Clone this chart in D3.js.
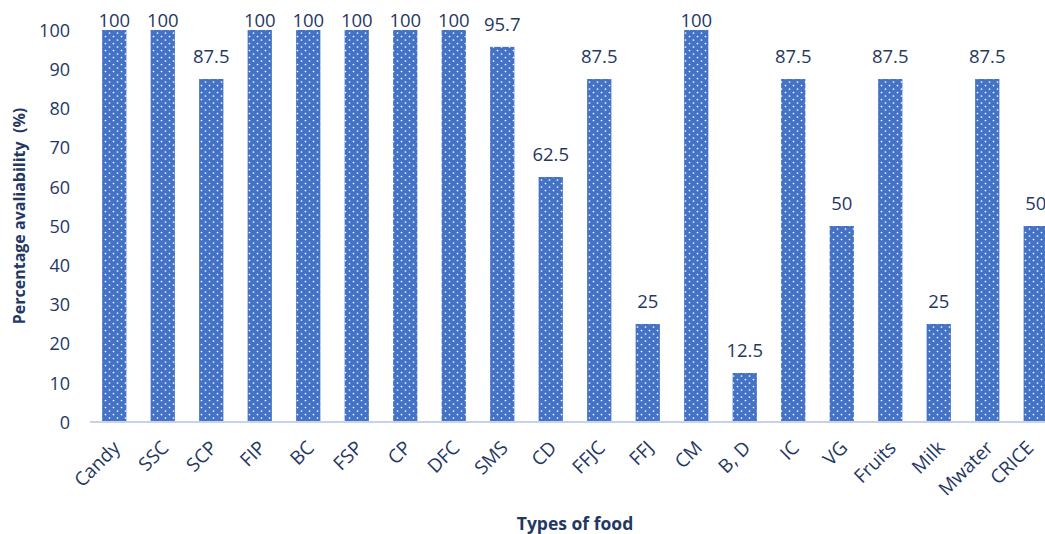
<!DOCTYPE html>
<html><head><meta charset="utf-8">
<script src="https://cdn.jsdelivr.net/npm/d3@7"></script>
<style>body{margin:0;background:#fff;} svg{display:block;}</style>
</head><body>
<script>
const categories = ["Candy","SSC","SCP","FIP","BC","FSP","CP","DFC","SMS","CD","FFJC","FFJ","CM","B, D","IC","VG","Fruits","Milk","Mwater","CRICE"];
const values = [100,100,87.5,100,100,100,100,100,95.7,62.5,87.5,25,100,12.5,87.5,50,87.5,25,87.5,50];
const yTicks = [0,10,20,30,40,50,60,70,80,90,100];
const yTitle = "Percentage avaliability  (%)";
const xTitle = "Types of food";

const W = 1045, H = 534;
const textColor = "#1f3864";
const barColor = "#4472c4";
const font = "'Open Sans', sans-serif";

const svg = d3.select("body").append("svg").attr("width", W).attr("height", H);

const defs = svg.append("defs");
const pat = defs.append("pattern").attr("id","dots").attr("patternUnits","userSpaceOnUse")
  .attr("width",8).attr("height",7);
pat.append("rect").attr("width",8).attr("height",7).attr("fill",barColor);
pat.append("circle").attr("cx",1.5).attr("cy",1.5).attr("r",0.85).attr("fill","#fff");
pat.append("circle").attr("cx",5.5).attr("cy",5).attr("r",0.85).attr("fill","#fff");

const x = d3.scaleBand().domain(categories).range([90, 1060]).paddingInner(0.5).paddingOuter(0.25);
const y = d3.scaleLinear().domain([0,100]).range([422, 30]);

// y axis
const yAxis = svg.append("g").attr("transform","translate(80,0)")
  .call(d3.axisLeft(y).tickValues(yTicks).tickSize(0).tickPadding(0));
yAxis.select(".domain").remove();
yAxis.selectAll("text").attr("font-family",font).attr("font-size",18).attr("fill",textColor)
  .attr("x",-10).attr("dy","0.35em");

// bars
svg.append("g").selectAll("rect").data(values).join("rect")
  .attr("x",(d,i)=>x(categories[i]))
  .attr("width",x.bandwidth())
  .attr("y",d=>y(d))
  .attr("height",d=>y(0)-y(d))
  .attr("fill","url(#dots)");

// x axis
const xAxis = svg.append("g").attr("transform","translate(0,422)")
  .call(d3.axisBottom(x).tickSize(0).tickPadding(0));
xAxis.select(".domain").attr("stroke","#c5d3ea").attr("stroke-width",2).attr("d","M90,0H1060");
xAxis.selectAll("text").attr("font-family",font).attr("font-size",19).attr("fill",textColor)
  .attr("text-anchor","end").attr("dy",0).attr("y",0)
  .attr("transform",(d,i)=> i === categories.length-1 ? "translate(-1,27) rotate(-45)" : "translate(7,27) rotate(-45)");

// value labels
svg.append("g").selectAll("text").data(values).join("text")
  .attr("x",(d,i)=>x(categories[i])+x.bandwidth()/2)
  .attr("y",d=>Math.max(y(d)-16, 27))
  .attr("text-anchor","middle")
  .attr("font-family",font).attr("font-size",18.5).attr("fill",textColor)
  .text(d=>d);

// titles
svg.append("text").attr("transform","translate(25,216) rotate(-90)")
  .attr("text-anchor","middle").attr("font-family",font).attr("font-weight","bold")
  .attr("font-size",16).attr("fill",textColor).attr("xml:space","preserve")
  .style("white-space","pre").text(yTitle);
svg.append("text").attr("x",575).attr("y",530)
  .attr("text-anchor","middle").attr("font-family",font).attr("font-weight","bold")
  .attr("font-size",17.5).attr("fill",textColor).text(xTitle);
</script>
</body></html>
